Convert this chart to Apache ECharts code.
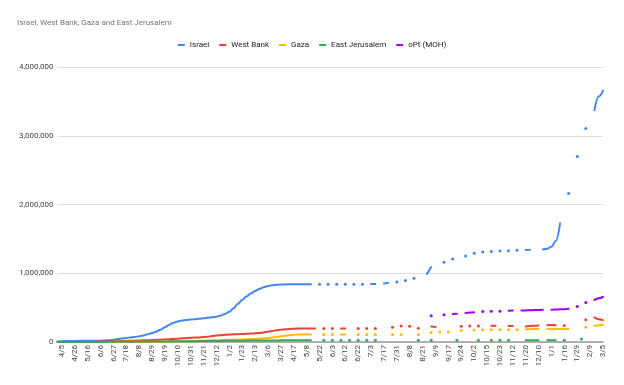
<!DOCTYPE html>
<html><head><meta charset="utf-8">
<script src="https://cdn.jsdelivr.net/npm/echarts@6/dist/echarts.min.js"></script>
<style>html,body{margin:0;padding:0;background:#fff}#c{width:624px;height:385px}</style>
</head><body><div id="c"></div>
<script>
const _ = null;
// x-axis tick labels (one every third data row)
const tickLabels = ['4/5','4/26','5/16','6/6','6/27','7/18','8/8','8/29','9/19','10/10','10/31','11/21','12/12','1/2','1/23','2/13','3/6','3/27','4/17','5/8',
  '5/22','6/3','6/12','6/22','7/3','7/17','7/31','8/8','8/21','9/9','9/17','9/24','10/2','10/15','10/23','11/12','11/20','12/10','1/1','1/16','1/29','2/9','3/5'];
const rowCount = 128;

const israel = [8000,12000,14500,15500,16300,16700,16900,17200,18000,19000,
20000,23000,27000,33000,42000,52000,60000,67000,74000,82000,
95000,111000,130000,152000,180000,214000,250000,280000,299000,312000,
320000,326000,332000,338000,346000,354000,361000,369000,385000,408000,
440000,490000,555000,612000,662000,705000,742000,772000,797000,814000,
826000,833000,836000,838000,839000,839500,840000,840000,840000,840000,
_,840000,_,840000,_,840000,_,840000,_,840000,
_,840000,_,842000,844000,_,852000,860000,_,874000,
_,893000,_,928000,_,_,990000,1090000,_,_,
1160000,_,1207000,_,_,1251000,_,1290000,_,1309000,
_,1315000,_,1323000,_,1328000,_,1333000,_,1338000,
1340000,_,_,1345000,1355000,1385000,1470000,1725000,_,2160000,
_,2700000,_,3106000,_,3370000,3570000,3655000];

const westBank = [250,300,350,400,450,500,600,900,1500,2500,
4000,6000,8000,10000,12000,14000,16000,18000,20000,22000,
24000,26000,28000,31000,34000,37000,40000,44000,49000,54000,
58000,61000,64000,67000,71000,78000,86000,94000,100000,105000,
108000,111000,113000,116000,119000,123000,127000,132000,140000,150000,
160000,170000,178000,184000,189000,193000,195000,196000,197000,197000,
197000,_,195000,_,195000,_,195000,195000,_,_,
195000,_,195000,_,196000,_,_,_,215000,_,
232000,_,228000,_,200000,_,_,226000,218000,_,
_,_,_,_,230000,_,234000,_,234000,_,
_,236000,238000,_,_,232000,234000,_,_,226000,
232000,238000,241000,_,244000,246000,244000,_,241000,_,
_,_,_,323000,_,358000,332000,318000];

const gaza = [0,0,10,20,50,60,70,100,200,400,
800,1200,1500,1700,1800,1900,2000,2100,2200,2300,
2500,2800,3200,3600,4200,5000,6000,7000,8500,10000,
12000,14000,16000,18000,20000,22000,24000,26000,28000,30000,
32000,34000,36000,38000,40000,42000,45000,49000,53000,58000,
64000,72000,82000,92000,100000,105000,108000,109000,110000,110000,
_,_,110000,_,110000,_,110000,110000,_,_,
110000,_,110000,_,110000,_,_,_,110000,_,
110000,_,_,_,110000,_,_,139000,_,147000,
_,150000,_,_,168000,_,_,176000,_,178000,
_,178000,_,178000,_,178000,_,180000,_,185000,
187000,188000,188000,_,188000,188000,188000,188000,189000,190000,
_,_,_,215000,_,236000,245000,250000];

const eastJerusalem = [50,100,150,200,250,300,350,400,600,900,
1300,1800,2300,2800,3300,3800,4300,4800,5300,5800,
6300,6800,7300,7800,8300,8800,9300,9800,10300,10800,
11300,11800,12300,12800,13300,13800,14500,15200,16000,16800,
17500,18200,18800,19400,20000,20500,21000,21500,22000,22500,
23000,23400,23800,24100,24300,24500,24600,24700,24800,24800,
_,_,26000,_,26000,_,26000,_,26000,_,
26000,_,26000,_,26000,_,_,_,_,_,
_,_,_,_,26000,_,_,26000,_,_,
_,_,_,26000,_,_,_,_,26000,_,
_,26000,_,26000,_,26000,_,_,_,26000,
26000,26000,26000,_,26000,26000,26000,_,26000,_,
_,_,45000,_,_,_,_,_];

const oPtMOH = new Array(80).fill(null).concat([
_,_,_,_,_,_,_,381000,_,_,
396000,_,408000,412000,_,422000,428000,432000,_,443000,
_,446000,_,448000,_,456000,458000,_,458000,460000,
462000,464000,466000,468000,_,470000,472000,475000,478000,483000,
_,516000,_,574000,_,613000,638000,655000]);

const rows = Array.from({length: rowCount}, (_v, i) => i % 3 === 0 ? tickLabels[i / 3] : '');

function mk(name, arr, color) {
  const sizes = arr.map((v, i) => (v != null && (i === 0 || arr[i-1] == null) && (i === arr.length-1 || arr[i+1] == null)) ? 3 : 0);
  return {
    name, type: 'line', data: arr, smooth: 0.4, smoothMonotone: 'x', connectNulls: false,
    showSymbol: true, showAllSymbol: true, symbol: 'circle',
    symbolSize: (v, p) => sizes[p.dataIndex],
    lineStyle: {width: 2, color, cap: 'round'}, itemStyle: {color, borderWidth: 0},
    emphasis: {disabled: true}
  };
}

const chart = echarts.init(document.getElementById('c'), null, {renderer: 'canvas'});
chart.setOption({
  animation: false,
  backgroundColor: '#fff',
  textStyle: {fontFamily: 'Roboto'},
  title: {text: 'Israel, West Bank, Gaza and East Jerusalem', left: 12, top: 13,
    textStyle: {fontFamily: 'Roboto', fontSize: 8, fontWeight: 'normal', color: '#757575', lineHeight: 10}},
  legend: {top: 35, left: 'center', icon: 'roundRect', itemWidth: 7, itemHeight: 2, itemGap: 10,
    textStyle: {fontFamily: 'Roboto', fontSize: 8, color: '#222', lineHeight: 10}},
  grid: {left: 57.5, right: 21, top: 67, bottom: 43, containLabel: false, outerBoundsMode: 'none'},
  xAxis: {type: 'category', data: rows, boundaryGap: false,
    axisLine: {show: true, lineStyle: {color: '#9a9a9a', width: 1.5}},
    axisTick: {show: false},
    axisLabel: {interval: 2, rotate: 90, margin: 3, fontFamily: 'Roboto', fontSize: 8, color: '#444', verticalAlign: 'top', lineHeight: 9},
    splitLine: {show: false}},
  yAxis: {type: 'value', min: 0, max: 4000000, interval: 1000000,
    axisLine: {show: false}, axisTick: {show: false},
    axisLabel: {margin: 4, fontFamily: 'Roboto', fontSize: 8, color: '#444',
      formatter: v => v.toLocaleString('en-US')},
    splitLine: {lineStyle: {color: '#dcdcdc', width: 1}}},
  series: [
    mk('Israel', israel, '#4285F4'),
    mk('West Bank', westBank, '#EA4335'),
    mk('Gaza', gaza, '#FBBC04'),
    mk('East Jerusalem', eastJerusalem, '#34A853'),
    mk('oPt (MOH)', oPtMOH, '#9900FF')
  ]
});
</script>
</body></html>
